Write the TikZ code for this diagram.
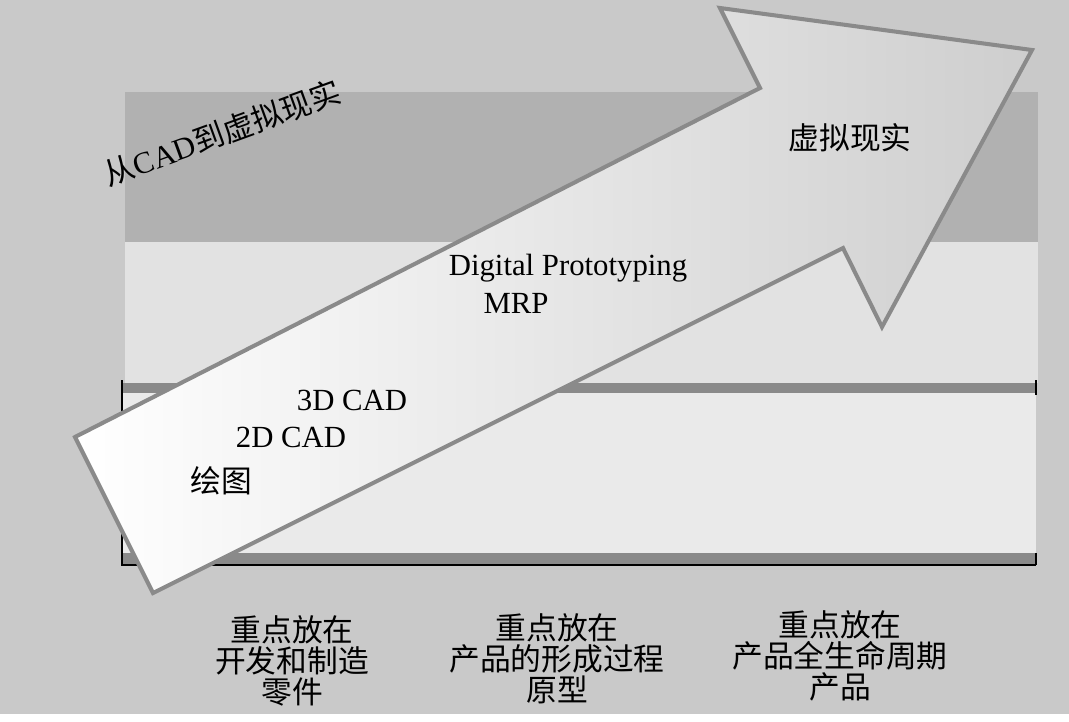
\documentclass[tikz,border=0pt]{standalone}
\usepackage{fontspec}
\setmainfont{Liberation Serif}
\newfontfamily\cjk{Noto Sans CJK SC}
\usetikzlibrary{positioning}

\definecolor{bgGray}{RGB}{201,201,201}
\definecolor{bandDark}{RGB}{177,177,177}
\definecolor{bandLight}{RGB}{226,226,226}
\definecolor{lowLight}{RGB}{234,234,234}
\definecolor{barGray}{RGB}{138,138,138}
\definecolor{headGray}{RGB}{206,206,206}

\begin{document}
\begin{tikzpicture}[x=0.02cm, y=-0.02cm,
    label/.style={inner sep=1pt, font=\fontsize{17.5}{17.5}\selectfont, text=black},
    focus/.style={label, align=center},
    bar/.style={fill=barGray, draw=none},
    edge/.style={black, line width=1.2pt},
    arrowline/.style={draw=barGray, line width=2.3pt, line join=miter}]

    \useasboundingbox (0,0) rectangle (1069,721);
    \fill[bgGray] (0,0) rectangle (1069,714);

    % bands behind the arrow
    \fill[bandDark] (125,92) rectangle (1038,242);
    \fill[bandLight] (125,242) rectangle (1038,383);
    \fill[lowLight] (123,393) rectangle (1036,553);
    \fill[bar] (122,383) rectangle (1036,393);
    \fill[bar] (122,553) rectangle (1036,564);
    \draw[edge] (122,380) -- (122,565) -- (1036,565);
    \draw[edge] (1036,380) -- (1036,395);
    \draw[edge] (1036,553) -- (1036,565);

    % the big arrow
    \coordinate (tailTop) at (75,437);
    \coordinate (notchTop) at (760,88);
    \coordinate (barbTop) at (720,8);
    \coordinate (tip) at (1032,50);
    \coordinate (barbLow) at (882,327);
    \coordinate (notchLow) at (843,248);
    \coordinate (tailLow) at (153,593);
    \draw[arrowline, left color=white, right color=headGray]
        (tailTop) -- (notchTop) -- (barbTop) -- (tip) -- (barbLow) -- (notchLow) -- (tailLow) -- cycle;

    \node (title) [label, rotate=20] at (222,133) {{\cjk 从}CAD{\cjk 到虚拟现实}};
    \node (vr) [label] at (850,138) {\cjk 虚拟现实};
    \node (dp) [label] at (568,268) {Digital Prototyping};
    \node (mrp) [label] at (516,303) {MRP};
    \node (cad3) [label] at (352,400) {3D CAD};
    \node (cad2) [label] at (291,437) {2D CAD};
    \node (sketch) [label] at (221,481) {\cjk 绘图};

    \node (parts) [focus] at (292,661) {\cjk 重点放在\\\cjk 开发和制造\\\cjk 零件};
    \node (proto) [focus] at (557,659) {\cjk 重点放在\\\cjk 产品的形成过程\\\cjk 原型};
    \node (life) [focus] at (840,656) {\cjk 重点放在\\\cjk 产品全生命周期\\\cjk 产品};
\end{tikzpicture}
\end{document}
